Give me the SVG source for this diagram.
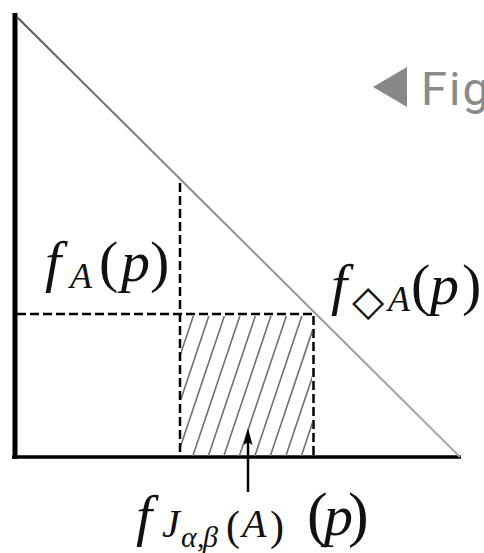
<svg xmlns="http://www.w3.org/2000/svg" width="484" height="553" viewBox="0 0 484 553">
<style>
.mt{font-family:"Liberation Serif","Times New Roman",serif;fill:#111}
.i{font-style:italic}
.dl{stroke:#000;fill:none;stroke-width:2.5;stroke-dasharray:9 4}
.hatch{stroke:#707070;stroke-width:1.6;fill:none}
</style>
<defs>
<clipPath id="hc"><rect x="181" y="316" width="131" height="140"/></clipPath>
<linearGradient id="dg" gradientUnits="userSpaceOnUse" x1="17" y1="17" x2="460" y2="457">
<stop offset="0" stop-color="#555"/><stop offset="0.35" stop-color="#888"/><stop offset="1" stop-color="#aaa"/>
</linearGradient>
</defs>
<rect width="484" height="553" fill="#fff"/>
<g id="axes">
<line x1="15" y1="13" x2="15" y2="459" stroke="#000" stroke-width="5"/>
<line x1="12" y1="457" x2="461" y2="457" stroke="#000" stroke-width="3.5"/>
</g>
<g id="hatching" clip-path="url(#hc)">
<path class="hatch" d="M194,314L146,457M209.5,314L161.5,457M225,314L177,457M240.5,314L192.5,457M256,314L208,457M271.5,314L223.5,457M287,314L239,457M302.5,314L254.5,457M318,314L270,457M333.5,314L285.5,457M349,314L301,457"/>
</g>
<g id="connectors">
<line x1="17" y1="17" x2="460" y2="457" stroke="url(#dg)" stroke-width="2"/>
<line class="dl" x1="180" y1="183" x2="180" y2="456"/>
<line class="dl" x1="17" y1="314" x2="313" y2="314" stroke-dasharray="10 4"/>
<line class="dl" x1="313.5" y1="316" x2="313.5" y2="456" stroke-width="5.5" stroke-dasharray="18 4"/>
<line x1="248" y1="492" x2="248" y2="440" stroke="#000" stroke-width="2.5"/>
<polygon points="248,428 252.5,445 248,442 243.5,445" fill="#000"/>
</g>
<g id="fig">
<polygon points="373,87 407,67 407,107" fill="#888"/>
<text x="421" y="105" font-family="Roboto, sans-serif" fill="#8a8a8a" font-size="47" letter-spacing="2">Fig</text>
</g>
<g id="label-fA">
<text class="mt" font-size="58"><tspan class="i" x="45" y="281">f</tspan><tspan class="i" x="70" y="288" font-size="36">A</tspan><tspan x="99" y="281">(</tspan><tspan class="i" x="121" y="281">p</tspan><tspan x="150" y="281">)</tspan></text>
</g>
<g id="label-fdA">
<text class="mt" font-size="58"><tspan class="i" x="331" y="304">f</tspan><tspan x="352" y="315" font-size="42" style="font-family:'DejaVu Sans',sans-serif;fill:#111">◇</tspan><tspan class="i" x="388" y="311" font-size="36">A</tspan><tspan x="411" y="304">(</tspan><tspan class="i" x="430" y="304">p</tspan><tspan x="462" y="304">)</tspan></text>
</g>
<g id="label-fJ">
<text class="mt" font-size="58"><tspan class="i" x="136" y="535">f</tspan><tspan class="i" x="162" y="537" font-size="40">J</tspan><tspan class="i" x="181" y="547" font-size="30">α</tspan><tspan x="197" y="547" font-size="30">,</tspan><tspan class="i" x="203" y="547" font-size="30">β</tspan><tspan x="226" y="540" font-size="42">(</tspan><tspan class="i" x="242" y="537" font-size="40">A</tspan><tspan x="270" y="540" font-size="42">)</tspan><tspan x="307" y="535" font-size="62">(</tspan><tspan class="i" x="324" y="535">p</tspan><tspan x="348" y="535" font-size="62">)</tspan></text>
</g>
</svg>
